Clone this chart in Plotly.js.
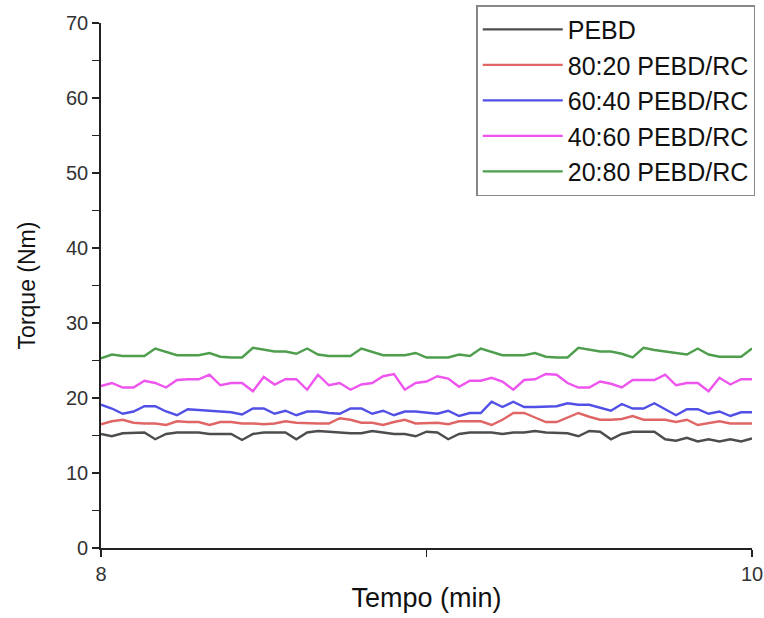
<!DOCTYPE html>
<html>
<head>
<meta charset="utf-8">
<script src="https://cdn.plot.ly/plotly-3.0.1.min.js"></script>
<style>
  html, body { margin: 0; padding: 0; background: #fff; }
  #chart { width: 764px; height: 618px; }
</style>
</head>
<body>
<div id="chart"></div>
<script>
// Sampling instants between 8 and 10 min (one reading every 2 s)
const nPoints = 61;
const tempo = Array.from({length: nPoints}, (_, i) => 8 + i / 30);

// Torque readings (Nm) per formulation
const pebd = [15.2, 14.9, 15.3, 15.4, 15.4, 14.5, 15.2, 15.4, 15.4, 15.4,
              15.2, 15.2, 15.2, 14.4, 15.2, 15.4, 15.4, 15.4, 14.5, 15.4,
              15.6, 15.5, 15.3, 15.3, 15.3, 15.6, 15.4, 15.2, 15.2, 14.9,
              15.5, 15.4, 14.5, 15.2, 15.4, 15.4, 15.4, 15.2, 15.4, 15.4,
              15.6, 15.4, 15.3, 15.3, 14.9, 15.6, 15.5, 14.5, 15.2, 15.5,
              15.5, 15.5, 14.5, 14.3, 14.7, 14.2, 14.5, 14.2, 14.5, 14.2,
              14.6];
const pebdRc8020 = [16.5, 16.9, 17.1, 16.7, 16.6, 16.6, 16.4, 16.9, 16.8, 16.8,
                    16.4, 16.8, 16.8, 16.6, 16.6, 16.5, 16.6, 16.9, 16.7, 16.6,
                    16.6, 16.6, 17.3, 17.1, 16.7, 16.7, 16.4, 16.8, 17.1, 16.6,
                    16.7, 16.7, 16.5, 16.9, 16.9, 16.9, 16.4, 17.1, 18.0, 18.0,
                    17.4, 16.8, 16.8, 17.4, 18.0, 17.5, 17.1, 17.1, 17.2, 17.6,
                    17.1, 17.1, 17.1, 16.8, 17.1, 16.4, 16.7, 16.9, 16.6, 16.6,
                    16.6];
const pebdRc6040 = [19.1, 18.6, 17.9, 18.2, 18.9, 18.9, 18.2, 17.7, 18.5, 18.4,
                    18.4, 18.3, 18.1, 17.8, 18.6, 18.6, 17.9, 18.3, 17.7, 18.2,
                    18.2, 18.0, 17.9, 18.6, 18.6, 17.9, 18.3, 17.7, 18.2, 18.2,
                    18.0, 17.9, 18.3, 17.6, 18.0, 18.0, 19.5, 18.8, 19.5, 18.8,
                    18.8, 18.9, 18.9, 19.3, 19.1, 19.1, 18.7, 18.3, 19.2, 18.6,
                    18.6, 19.3, 18.5, 17.7, 18.5, 18.5, 17.9, 18.2, 17.6, 18.1,
                    18.1];
const pebdRc4060 = [21.6, 22.0, 21.4, 21.4, 22.3, 22.0, 21.4, 22.4, 22.5, 22.5,
                    23.1, 21.7, 22.0, 22.0, 20.9, 22.8, 21.8, 22.5, 22.5, 21.1,
                    23.1, 21.7, 22.0, 21.1, 21.8, 22.0, 22.9, 23.2, 21.1, 22.0,
                    22.2, 22.9, 22.6, 21.5, 22.3, 22.3, 22.7, 22.2, 21.1, 22.4,
                    22.5, 23.2, 23.1, 22.0, 21.4, 21.4, 22.2, 21.9, 21.4, 22.4,
                    22.4, 22.4, 23.1, 21.7, 22.0, 22.0, 20.9, 22.7, 21.8, 22.5,
                    22.5];
const pebdRc2080 = [25.3, 25.8, 25.6, 25.6, 25.6, 26.6, 26.2, 25.7, 25.7, 25.7,
                    26.0, 25.5, 25.4, 25.4, 26.7, 26.4, 26.2, 26.2, 25.9, 26.6,
                    25.8, 25.6, 25.6, 25.6, 26.6, 26.1, 25.7, 25.7, 25.7, 26.0,
                    25.4, 25.4, 25.4, 25.8, 25.6, 26.6, 26.1, 25.7, 25.7, 25.7,
                    26.0, 25.5, 25.4, 25.4, 26.7, 26.4, 26.2, 26.2, 25.9, 25.4,
                    26.7, 26.4, 26.2, 26.1, 25.8, 26.6, 25.8, 25.5, 25.5, 25.5,
                    26.6];

const seriesNames = ['PEBD', '80:20 PEBD/RC', '60:40 PEBD/RC', '40:60 PEBD/RC', '20:80 PEBD/RC'];
const seriesValues = [pebd, pebdRc8020, pebdRc6040, pebdRc4060, pebdRc2080];
const seriesColors = ['#4d4d4d', '#e06666', '#5050e6', '#ee55ee', '#4e9e4e'];

const traces = seriesValues.map((vals, k) => ({
  type: 'scatter',
  mode: 'lines',
  x: tempo,
  y: vals,
  name: seriesNames[k],
  line: {color: seriesColors[k], width: 2.4},
  hoverinfo: 'skip'
}));

const FAMILY = 'Liberation Sans, Arial, sans-serif';
const tickFont = {family: FAMILY, size: 20, color: '#333'};

const layout = {
  width: 764,
  height: 618,
  margin: {l: 101, r: 12, t: 23, b: 70, autoexpand: false},
  paper_bgcolor: '#fff',
  plot_bgcolor: '#fff',
  showlegend: true,
  font: {family: FAMILY, color: '#111'},
  xaxis: {
    range: [8, 10],
    tickvals: [8, 9, 10],
    ticktext: ['8', '', '10'],
    ticks: 'outside',
    ticklen: 7,
    tickwidth: 1.5,
    tickcolor: '#222',
    showline: true,
    linecolor: '#222',
    linewidth: 1.8,
    showgrid: false,
    zeroline: false,
    tickfont: tickFont,
    title: {text: 'Tempo (min)', font: {family: FAMILY, size: 27, color: '#111'}, standoff: 4}
  },
  yaxis: {
    range: [0, 70],
    tickvals: [0, 10, 20, 30, 40, 50, 60, 70],
    ticks: 'outside',
    ticklen: 7,
    tickwidth: 1.5,
    tickcolor: '#222',
    minor: {tickvals: [5, 15, 25, 35, 45, 55, 65], ticks: 'outside', ticklen: 7, tickwidth: 1.5, tickcolor: '#222', showgrid: false},
    showline: true,
    linecolor: '#222',
    linewidth: 1.8,
    showgrid: false,
    zeroline: false,
    tickfont: tickFont,
    title: {text: 'Torque (Nm)', font: {family: FAMILY, size: 23, color: '#111'}, standoff: 24}
  },
  legend: {
    x: 1.005,
    xanchor: 'right',
    y: 1.034,
    yanchor: 'top',
    bgcolor: '#fff',
    bordercolor: '#888',
    borderwidth: 1.5,
    font: {family: FAMILY, size: 25, color: '#111'},
    itemwidth: 80
  }
};

Plotly.newPlot('chart', traces, layout, {displayModeBar: false, staticPlot: true});
</script>
</body>
</html>
